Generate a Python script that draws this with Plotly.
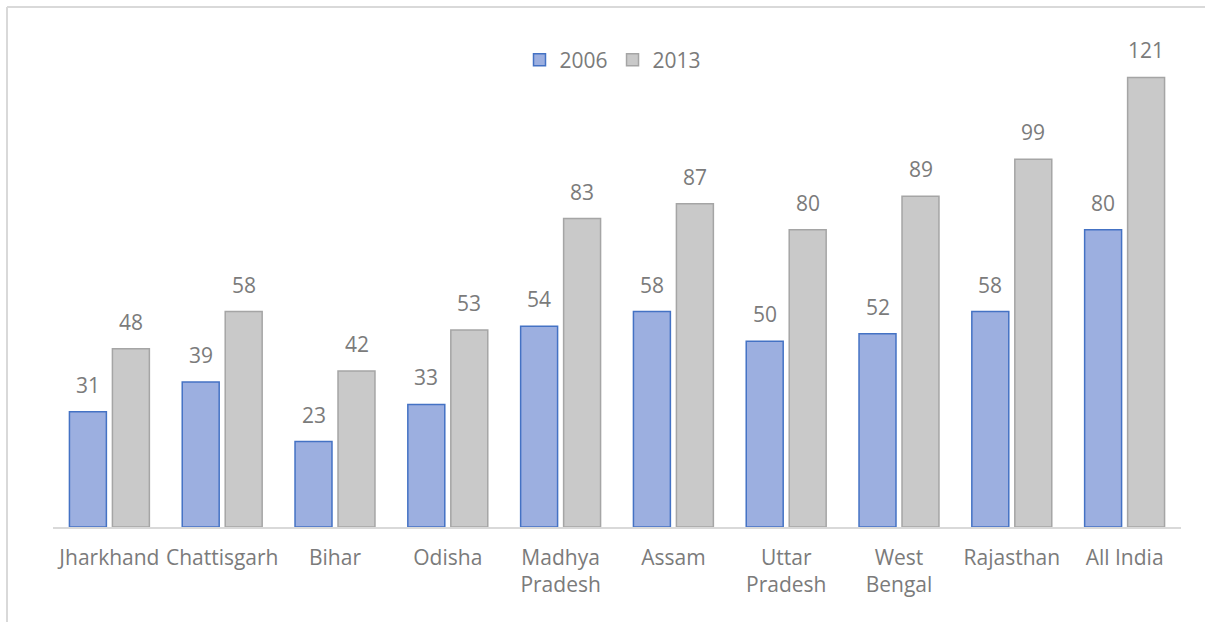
import plotly.graph_objects as go

# States compared across the two survey years
states = ["Jharkhand", "Chattisgarh", "Bihar", "Odisha", "Madhya<br>Pradesh",
          "Assam", "Uttar<br>Pradesh", "West<br>Bengal", "Rajasthan", "All India"]
values_2006 = [31, 39, 23, 33, 54, 58, 50, 52, 58, 80]
values_2013 = [48, 58, 42, 53, 83, 87, 80, 89, 99, 121]
years = ["2006", "2013"]

W, H = 1205, 622
M_L, M_R, M_T, M_B = 53, 24, 44, 95
Y_MAX = 130

FONT = "Open Sans"
TEXT_COLOR = "#7b7b7b"
FS = 21

fig = go.Figure()
fig.add_trace(go.Bar(
    name=years[0], x=states, y=values_2006,
    marker=dict(color="#9cafe0", line=dict(color="#4472c4", width=1.5)),
))
fig.add_trace(go.Bar(
    name=years[1], x=states, y=values_2013,
    marker=dict(color="#c9c9c9", line=dict(color="#a5a5a5", width=1.5)),
))

# value labels sitting above each bar
for series, shift in ((values_2006, -21.5), (values_2013, 21.5)):
    for cat, v in zip(states, series):
        fig.add_annotation(
            x=cat, y=v, text=str(v), showarrow=False,
            xshift=shift, yshift=11, yanchor="bottom",
            font=dict(family=FONT, size=FS, color=TEXT_COLOR),
        )

# light frame of the chart area (top and left edges)
plot_w = W - M_L - M_R
plot_h = H - M_T - M_B
def px_x(px):
    return (px - M_L) / plot_w
def px_y(py):
    return (H - M_B - py) / plot_h
frame = dict(color="#d9d9d9", width=2)
fig.add_shape(type="line", xref="paper", yref="paper",
              x0=px_x(7), x1=px_x(W + 5), y0=px_y(7), y1=px_y(7), line=frame)
fig.add_shape(type="line", xref="paper", yref="paper",
              x0=px_x(7), x1=px_x(7), y0=px_y(7), y1=px_y(H + 5), line=frame)

fig.update_layout(
    width=W, height=H,
    margin=dict(l=M_L, r=M_R, t=M_T, b=M_B),
    paper_bgcolor="white", plot_bgcolor="white",
    barmode="group", bargap=0.238, bargroupgap=0.14,
    font=dict(family=FONT, size=FS, color=TEXT_COLOR),
    showlegend=True,
    legend=dict(orientation="h", x=px_x(613), xanchor="center",
                y=px_y(60), yanchor="middle", itemwidth=30,
                font=dict(family=FONT, size=FS, color=TEXT_COLOR),
                bgcolor="rgba(0,0,0,0)"),
    xaxis=dict(showline=True, linecolor="#d9d9d9", linewidth=1.5,
               showgrid=False, ticks="", tickangle=0,
               ticklabelstandoff=11,
               tickfont=dict(family=FONT, size=FS, color=TEXT_COLOR)),
    yaxis=dict(range=[0, Y_MAX], visible=False, showgrid=False),
)

fig.write_html("out.html")
